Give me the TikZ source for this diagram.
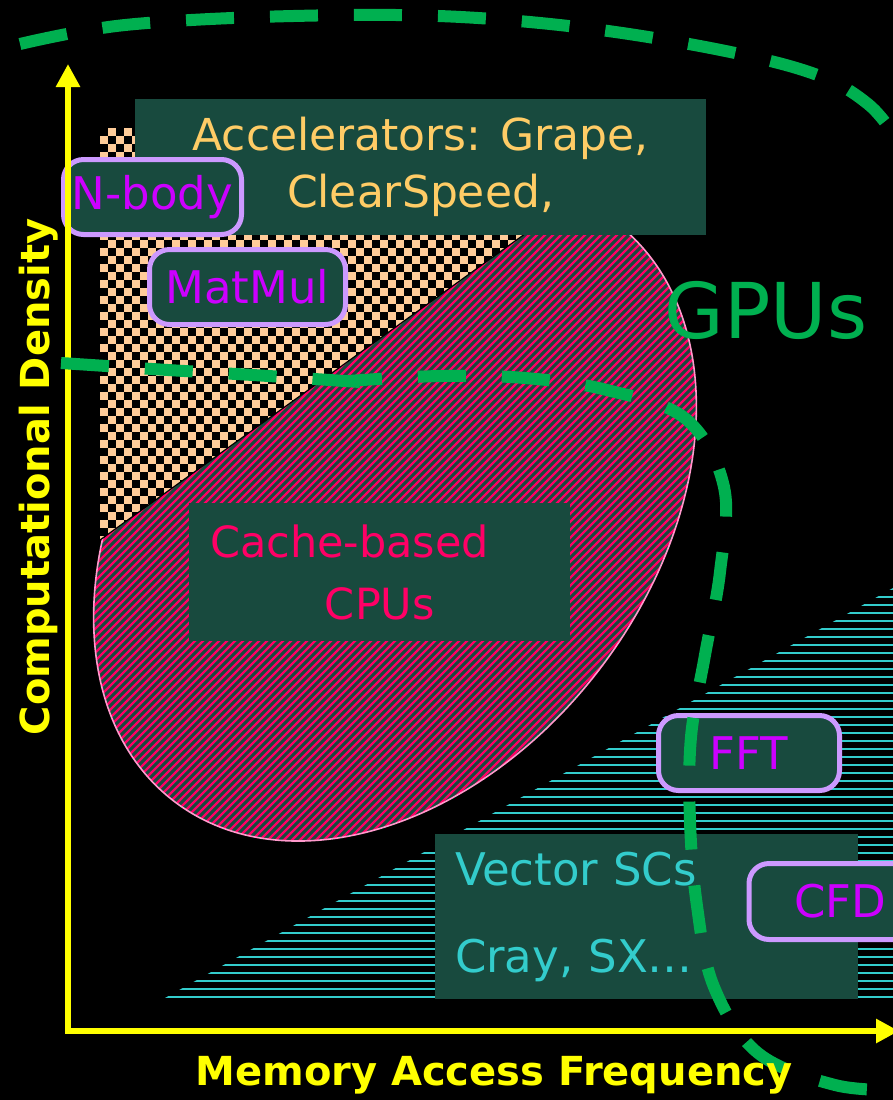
\documentclass[tikz,border=0pt]{standalone}
\usepackage{fontspec}
\setmainfont{DejaVu Sans}
\usepackage{tikz}
\usetikzlibrary{arrows.meta,positioning}
\definecolor{panelgreen}{RGB}{24,74,62}
\definecolor{accyellow}{RGB}{255,204,102}
\definecolor{tagtext}{RGB}{204,0,255}
\definecolor{tagedge}{RGB}{204,153,255}
\definecolor{gpugreen}{RGB}{0,176,80}
\definecolor{cpured}{RGB}{255,0,102}
\definecolor{cpuedge}{RGB}{255,153,204}
\definecolor{checkpeach}{RGB}{255,204,153}
\definecolor{vecteal}{RGB}{51,204,204}
\definecolor{axisyellow}{RGB}{255,255,0}
\tikzset{>=stealth}

\begin{document}
\begin{tikzpicture}[x=0.5pt, y=-0.5pt,
  panel/.style={fill=panelgreen, inner sep=0pt},
  tagbox/.style={draw=tagedge, line width=2.5pt, fill=panelgreen, rounded corners=10pt, text=tagtext,
    font=\fontsize{22.5}{27}\selectfont, inner sep=0pt, minimum height=37.5pt},
  gpuline/.style={gpugreen, line width=6pt, dash pattern=on 24pt off 18pt},
  axisline/.style={axisyellow, line width=3.2pt, line cap=rect, -{Triangle[length=11.5pt, width=11.5pt]}},
  axislabel/.style={text=axisyellow, font=\fontsize{20}{24}\selectfont\bfseries, inner sep=0pt}]
	\useasboundingbox (0,0) rectangle (893,1100);
	\clip (0,0) rectangle (893,1100);
	\fill[black] (0,0) rectangle (893,1100);
	% vector machines: horizontal hatch
	\begin{scope}
		\clip (165,998) -- (893,588) -- (893,998) -- cycle;
		\foreach \k in {0,...,52}
			\draw[vecteal, line width=1pt] (160,997-8*\k) -- (900,997-8*\k);
	\end{scope}
	% cache-based CPUs: tilted ellipse
	\begin{scope}
		\clip[rotate around={52.65:(395,512)}] (395,512) ellipse (364 and 258);
		\fill[panelgreen] (0,100) rectangle (800,900);
		\foreach \c in {380,388,...,1420}
			\draw[cpured, line width=1.15pt] (\c-900,900) -- (\c,0);
	\end{scope}
	\draw[cpuedge, line width=0.8pt, rotate around={52.65:(395,512)}] (395,512) ellipse (364 and 258);
	% accelerators: checkerboard
	\begin{scope}
		\clip (100,128) -- (672,128) -- (100,540) -- cycle;
		\fill[checkpeach] (100,128) rectangle (672,540);
		\foreach \row in {0,...,51} {
			\pgfmathtruncatemacro{\shift}{mod(\row,2)}
			\foreach \col in {0,2,...,70}
				\fill[black] (100+8*\col+8*\shift,128+8*\row) rectangle ++(8,8);
		}
	\end{scope}
	\draw[black, line width=0.6pt] (100,540) -- (672,128);
	% text panels
	\node[panel, minimum width=285.5pt, minimum height=68pt, align=center, text=accyellow,
		font=\fontsize{22}{28.5}\selectfont] (accel) at (420.5,167) {Accelerators: Grape,\\ClearSpeed,};
	\node[panel, minimum width=190.5pt, minimum height=69pt, text width=169.5pt, inner xsep=10.5pt, align=left,
		text=cpured, font=\fontsize{21.5}{31}\selectfont] (cpus) at (379.5,572) {Cache-based\\\hspace*{57.5pt}CPUs};
	\node[panel, minimum width=211.5pt, minimum height=82.5pt, text width=191.5pt, inner xsep=10pt, align=left,
		text=vecteal, font=\fontsize{22.5}{43.5}\selectfont] (vector) at (646.5,916.5) {Vector SCs\\Cray, SX\ldots};
	% applications
	\node[tagbox, minimum width=89pt] (nbody) at (152.5,197) {N-body};
	\node[tagbox, minimum width=98pt] (matmul) at (247.5,287) {MatMul};
	\node[tagbox, minimum width=90.5pt] (fft) at (749,753) {FFT};
	\node[tagbox, minimum width=91pt, minimum height=38pt] (cfd) at (840,901.5) {CFD};
	% axes
	\coordinate (origin) at (68,1031);
	\coordinate (ytop) at (68,64);
	\coordinate (xend) at (899,1031);
	\draw[axisline] (origin) -- (ytop);
	\draw[axisline] (origin) -- (xend);
	% GPU region
	\draw[gpuline] plot[smooth, tension=0.6] coordinates {(20,44) (125,25) (293,16) (461,17) (629,34) (793,67) (868,104) (910,160)};
	\draw[gpuline] plot[smooth] coordinates {(61,363) (168,370) (253,375) (360,382)};
	\draw[gpuline, dash phase=7pt] plot[smooth, tension=0.6] coordinates {(348,381) (440,376) (525,378) (607,390) (686,419) (724,487) (720,572) (705,655) (691,737) (690,821) (697,906) (714,987) (758,1053) (835,1085) (900,1090)};
	\node[text=gpugreen, font=\fontsize{38.5}{44}\selectfont, inner sep=0pt] (gpus) at (766,310) {GPUs};
	% axis labels
	\node[axislabel, anchor=base] (xlabel) at (494,1085) {Memory Access Frequency};
	\node[axislabel, rotate=90, anchor=base] (ylabel) at (49,477) {Computational Density};
\end{tikzpicture}
\end{document}
